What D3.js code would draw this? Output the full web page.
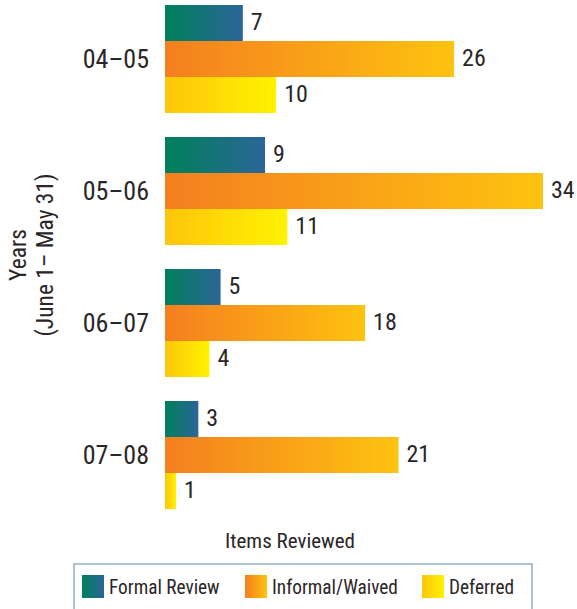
<!DOCTYPE html>
<html><head><meta charset="utf-8">
<script src="https://cdn.jsdelivr.net/npm/d3@7"></script>
<style>body{margin:0;background:#fff}svg{display:block}text{font-family:"Roboto Condensed","Liberation Sans",sans-serif;font-weight:400;fill:#2a2627}</style>
</head><body>
<script>
const years = ["04–05","05–06","06–07","07–08"];
const seriesNames = ["Formal Review","Informal/Waived","Deferred"];
const formalReview = [7,9,5,3];
const informalWaived = [26,34,18,21];
const deferred = [10,11,4,1];
const seriesValues = [formalReview, informalWaived, deferred];
const gradients = [["#00805a","#2b6599"],["#f47f20","#fec30f"],["#fdc50b","#fff200"]];

const W=577,H=609;
const svg=d3.select("body").append("svg").attr("width",W).attr("height",H);
const defs=svg.append("defs");
gradients.forEach((g,i)=>{
  const lg=defs.append("linearGradient").attr("id","g"+i).attr("x1","0").attr("x2","1").attr("y1","0").attr("y2","0");
  lg.append("stop").attr("offset","0").attr("stop-color",g[0]);
  lg.append("stop").attr("offset","1").attr("stop-color",g[1]);
});

const x=d3.scaleLinear().domain([0,34]).range([165,543]);
const y0=d3.scaleBand().domain(years).range([5,509]).paddingInner(24/132).paddingOuter(0);
const y1=d3.scaleBand().domain(d3.range(3)).range([0,y0.bandwidth()]);

const groups=svg.selectAll("g.grp").data(years).join("g").attr("class","grp").attr("transform",d=>`translate(0,${y0(d)})`);
groups.each(function(yr,gi){
  const g=d3.select(this);
  seriesValues.forEach((vals,si)=>{
    const v=vals[gi];
    g.append("rect").attr("x",x(0)).attr("y",y1(si)).attr("width",x(v)-x(0)).attr("height",y1.bandwidth()).attr("fill",`url(#g${si})`);
    g.append("text").attr("x",x(v)+8).attr("y",y1(si)+y1.bandwidth()/2).attr("dy","0.3em").attr("font-size",24).text(v);
  });
});

const yAxis=d3.axisLeft(y0).tickSize(0).tickPadding(16);
const ya=svg.append("g").attr("transform",`translate(${x(0)},0)`).call(yAxis);
ya.select(".domain").remove();
ya.selectAll("text").attr("font-size",26).attr("dy","0.35em").style("font-family","'Roboto Condensed','Liberation Sans',sans-serif").style("font-weight",400).attr("fill","#2a2627");

svg.append("text").attr("transform","translate(26,255) rotate(-90)").attr("text-anchor","middle").attr("font-size",23.5).text("Years");
svg.append("text").attr("transform","translate(53,255) rotate(-90)").attr("text-anchor","middle").attr("font-size",23.5).text("(June 1– May 31)");
svg.append("text").attr("x",290).attr("y",548).attr("text-anchor","middle").attr("font-size",21).text("Items Reviewed");

svg.append("rect").attr("x",74).attr("y",564).attr("width",458).attr("height",60).attr("fill","none").attr("stroke","#6f9dbb").attr("stroke-width",1.2);
const legX=[82,245,422];
seriesNames.forEach((n,i)=>{
  svg.append("rect").attr("x",legX[i]).attr("y",575).attr("width",22).attr("height",23).attr("fill",`url(#g${i})`);
  svg.append("text").attr("x",legX[i]+27).attr("y",594).attr("font-size",19.3).text(n);
});
</script>
</body></html>
